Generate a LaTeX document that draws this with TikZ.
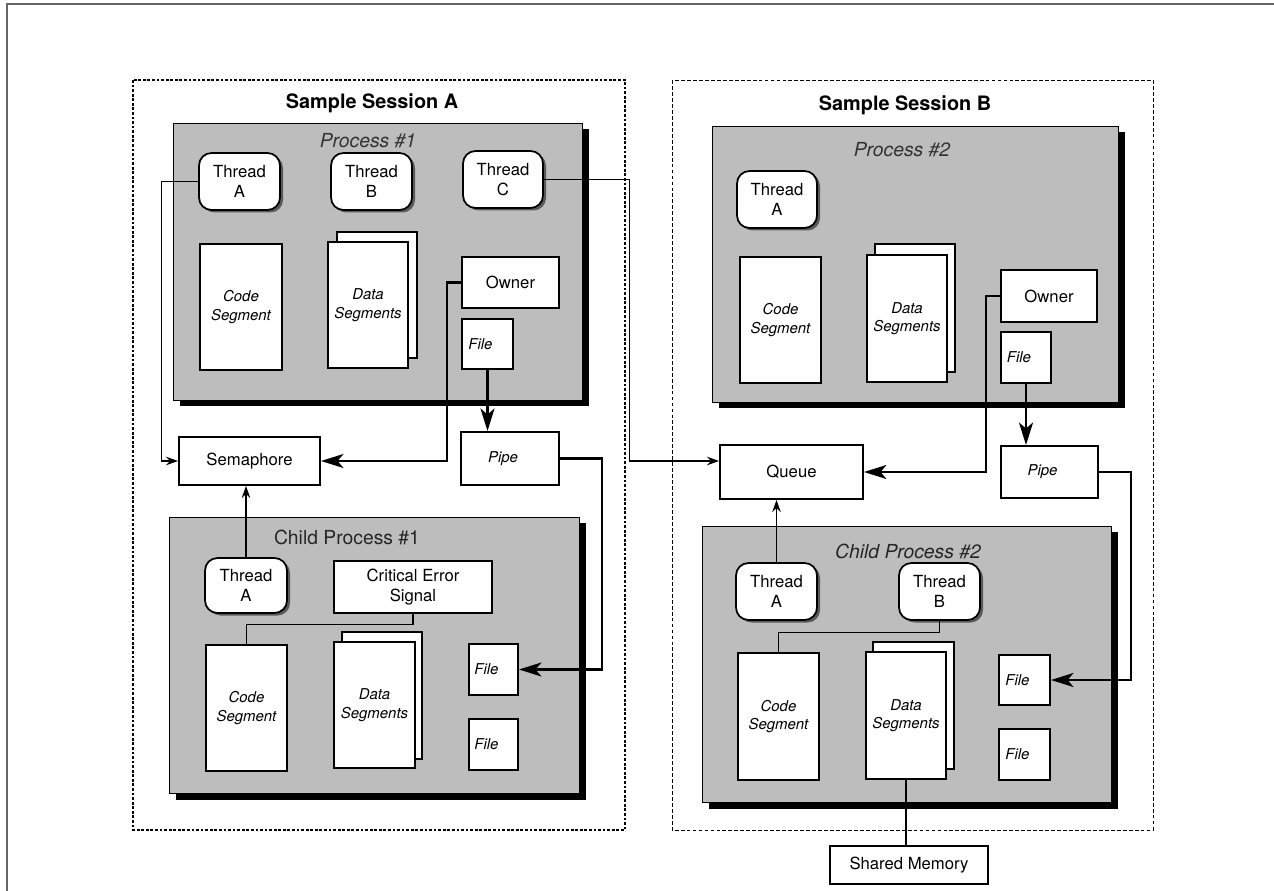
\documentclass[tikz,border=0pt]{standalone}
\usepackage{fontspec}
\setmainfont{TeX Gyre Heros}
\usetikzlibrary{arrows.meta,fit,shadows}

\begin{document}
\begin{tikzpicture}[x=0.02cm, y=-0.02cm,
	every node/.style={inner sep=0pt, font=\fontsize{9.5}{11}\selectfont},
	sessA/.style={line width=0.9pt, dash pattern=on 1.6pt off 1pt},
	sessB/.style={line width=0.5pt, dash pattern=on 2.2pt off 1.2pt},
	title/.style={font=\fontsize{11.3}{13}\selectfont\bfseries},
	ptitle/.style={font=\fontsize{11}{13}\selectfont\itshape, text=black!80},
	ctitle/.style={font=\fontsize{11}{13}\selectfont, text=black!85},
	proc/.style={draw, line width=0.5pt, fill=black!26,
		general shadow={fill=black, shadow xshift=0.14cm, shadow yshift=-0.13cm}},
	thread/.style={draw, line width=1pt, fill=white, rounded corners=0.25cm,
		general shadow={fill=black!65, shadow xshift=0.06cm, shadow yshift=-0.05cm},
		label={[align=center]center:#1}},
	seg/.style={draw, line width=1.1pt, fill=white,
		label={[align=center, font=\fontsize{8.5}{10.5}\selectfont\itshape]center:#1}},
	page/.style={draw, line width=0.8pt, fill=white},
	box/.style={draw, line width=1.1pt, fill=white, label={[align=center]center:#1}},
	file/.style={draw, line width=1.1pt, fill=white,
		label={[font=\fontsize{8.5}{10}\selectfont\itshape, xshift=-1.4mm]center:#1}},
	link/.style={line width=0.6pt},
	small/.style={line width=0.6pt, -{Stealth[length=2.4mm, width=1.7mm]}},
	big/.style={line width=1.4pt, -{Stealth[length=4.5mm, width=2.8mm, inset=1.2mm]}}]

	\useasboundingbox (0,0) rectangle (1274,891);
	\draw[black!60, line width=0.8pt] (1274,4) -- (7,4) -- (7,891);

	% sessions
	\draw[sessA] (133,80) rectangle (625,830);
	\draw[sessB] (672,80) rectangle (1153,830);
	\node[title] (titA) at (372,103) {Sample Session A};
	\node[title] (titB) at (905,105) {Sample Session B};

	% process #1
	\node[proc, fit={(173,123) (582,400)}] (p1) {};
	\node[ptitle] (p1name) at (368,141) {Process \#1};
	\node[thread={Thread\\A}, fit={(199,153) (280,210)}] (p1tA) {};
	\node[thread={Thread\\B}, fit={(331,153) (412,210)}] (p1tB) {};
	\node[thread={Thread\\C}, fit={(463,151) (543,208)}] (p1tC) {};
	\node[seg={Code\\Segment}, fit={(200,244) (282,370)}] (p1code) {};
	\node[page, fit={(337,232) (417,358)}] (p1datab) {};
	\node[seg={Data\\Segments}, fit={(328,242) (408,368)}] (p1data) {};
	\node[box=Owner, fit={(462,257) (559,308)}] (p1own) {};
	\node[file=File, fit={(462,319) (513,369)}] (p1file) {};

	\node[box=Semaphore, fit={(179,437) (320,485)}] (sem) {};
	\node[file=Pipe, fit={(461,432) (559,485)}] (p1pipe) {};

	% child process #1
	\node[proc, fit={(169,517) (579,793)}] (c1) {};
	\node[ctitle] (c1name) at (347,537) {Child Process \#1};
	\node[thread={Thread\\A}, fit={(205,558) (287,613)}] (c1tA) {};
	\node[box={Critical Error\\Signal}, line width=0.7pt, fit={(334,561) (492,613)}] (c1sig) {};
	\node[seg={Code\\Segment}, fit={(206,645) (287,771)}] (c1code) {};
	\node[page, fit={(342,632) (422,759)}] (c1datab) {};
	\node[seg={Data\\Segments}, fit={(334,642) (415,768)}] (c1data) {};
	\node[file=File, fit={(469,644) (518,695)}] (c1fileA) {};
	\node[file=File, fit={(469,719) (518,770)}] (c1fileB) {};

	% process #2
	\node[proc, fit={(712,126) (1118,402)}] (p2) {};
	\node[ptitle] (p2name) at (902,150) {Process \#2};
	\node[thread={Thread\\A}, fit={(737,171) (817,228)}] (p2tA) {};
	\node[seg={Code\\Segment}, fit={(740,257) (821,383)}] (p2code) {};
	\node[page, fit={(875,244) (955,372)}] (p2datab) {};
	\node[seg={Data\\Segments}, fit={(867,255) (947,382)}] (p2data) {};
	\node[box=Owner, fit={(1001,270) (1097,322)}] (p2own) {};
	\node[file=File, fit={(1001,332) (1051,383)}] (p2file) {};

	\node[box=Queue, fit={(720,445) (863,499)}] (queue) {};
	\node[file=Pipe, fit={(1001,446) (1098,498)}] (p2pipe) {};

	% child process #2
	\node[proc, fit={(702,526) (1111,802)}] (c2) {};
	\node[ptitle, text=black!85] (c2name) at (908,551) {Child Process \#2};
	\node[thread={Thread\\A}, fit={(736,563) (817,620)}] (c2tA) {};
	\node[thread={Thread\\B}, fit={(899,563) (980,620)}] (c2tB) {};
	\node[seg={Code\\Segment}, fit={(738,653) (819,780)}] (c2code) {};
	\node[page, fit={(873,642) (954,769)}] (c2datab) {};
	\node[seg={Data\\Segments}, fit={(866,652) (946,779)}] (c2data) {};
	\node[file=File, fit={(999,655) (1050,705)}] (c2fileA) {};
	\node[file=File, fit={(999,729) (1050,780)}] (c2fileB) {};

	\node[box={Shared Memory}, fit={(830,846) (988,884)}] (shm) {};

	% connectors
	\draw[small] (p1tA.west) -- ++(-37,0) |- (sem.west);
	\draw[small] (p1tC.east) -- ++(86,0) |- ([yshift=2.2mm]queue.west);
	\draw[big] (p1own.west) -- ++(-14,0) |- (sem.east);
	\draw[big] (p1file.south) -- (p1file.south |- p1pipe.north);
	\draw[big] (p1pipe.east) -- ++(42,0) |- (c1fileA.east);
	\draw[small] (c1tA.north) -- (c1tA.north |- sem.south);
	\draw[link] (c1sig.south) -- ++(0,11) -| (c1code.north);

	\draw[big] (p2own.west) -- ++(-14,0) |- (queue.east);
	\draw[big] (p2file.south) -- (p2file.south |- p2pipe.north);
	\draw[big] (p2pipe.east) -- ++(32,0) |- (c2fileA.east);
	\draw[small] (c2tA.north) -- (c2tA.north |- queue.south);
	\draw[link] (c2tB.south) -- ++(0,12) -| (c2code.north);
	\draw[link] (c2data.south) -- (c2data.south |- shm.north);
\end{tikzpicture}
\end{document}
